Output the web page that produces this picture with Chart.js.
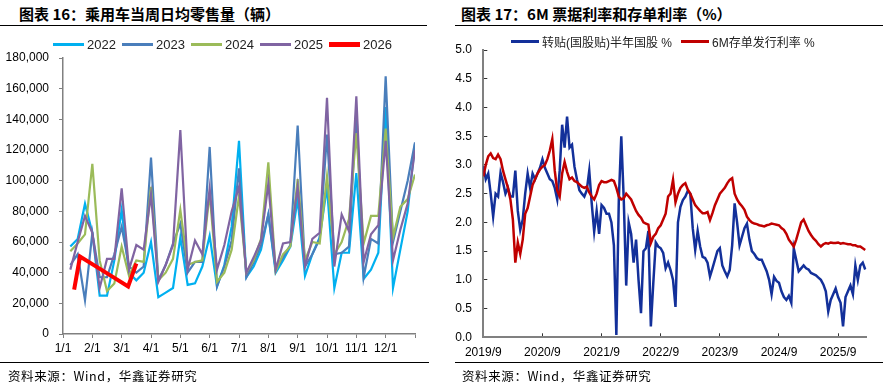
<!DOCTYPE html>
<html>
<head>
<meta charset="utf-8">
<script src="https://cdn.jsdelivr.net/npm/chart.js@4.4.1/dist/chart.umd.min.js"></script>
<style>
  body { margin: 0; width: 883px; height: 385px; background: #fff; position: relative; overflow: hidden; font-family: "Liberation Sans", Arial, sans-serif; }
  .title { position: absolute; top: 3px; font: bold 15px "Noto Sans CJK SC", sans-serif; color: #000; white-space: nowrap; }
  .rule { position: absolute; height: 0; border-top: 1.5px solid #000; }
  .src { position: absolute; top: 366px; font: 12.5px "Noto Sans CJK SC", sans-serif; color: #000; letter-spacing: 0.6px; white-space: nowrap; }
  canvas { position: absolute; top: 0; }
  .legend { position: absolute; display: flex; align-items: center; font-size: 13px; color: #222; white-space: nowrap; font-family: "Liberation Sans", "Noto Sans CJK SC", sans-serif; }
  .legend .item { display: flex; align-items: center; }
  .legend .swatch { display: inline-block; margin-right: 3px; flex: none; }
</style>
</head>
<body>
<div class="title" style="left:19px">图表 16：乘用车当周日均零售量（辆）</div>
<div class="title" style="left:461px">图表 17：6M 票据利率和存单利率（%）</div>
<div class="rule" style="left:0;width:427px;top:25px"></div>
<div class="rule" style="left:455px;width:428px;top:25px"></div>

<canvas id="retail" width="440" height="385" style="left:0"></canvas>
<canvas id="rates" width="443" height="385" style="left:440px"></canvas>

<div class="legend" id="legend1" style="left:53px;top:37px"></div>
<div class="legend" id="legend2" style="left:511px;top:33px;font-size:12px"></div>

<div class="rule" style="left:0;width:429px;top:362px"></div>
<div class="rule" style="left:455px;width:428px;top:362px"></div>
<div class="src" style="left:8px">资料来源：Wind，华鑫证券研究</div>
<div class="src" style="left:462px">资料来源：Wind，华鑫证券研究</div>

<script>
// ---- chart 16: weekly average daily retail (4 readings per month) ----
const monthLabels = ["1/1", "2/1", "3/1", "4/1", "5/1", "6/1", "7/1", "8/1", "9/1", "10/1", "11/1", "12/1"];
const years = ["2022", "2023", "2024", "2025", "2026"];
const yearColors = ["#00B0F0", "#4A7EBB", "#9BBB59", "#8064A2", "#FF0000"];

const sales2022 = [57000, 62000, 85000, 66000, 25000, 25000, 48000, 81000, 40000, 35000, 40000, 60000,
  24000, 27000, 30000, 63000, 32000, 33000, 44000, 64000, 31000, 45000, 70000, 126000,
  37000, 44000, 55000, 78000, 40000, 48000, 57000, 88000, 38000, 52000, 63000, 96000,
  30000, 53000, 53000, 105000, 36000, 42000, 53000, 148000, 30000, 55000, 80000, 124000];
const sales2023 = [45000, 52000, 22000, 66000, 37000, 37000, 52000, 70000, 44000, 40000, 44000, 115000,
  35000, 45000, 59000, 72000, 40000, 47000, 47000, 122000, 31000, 44000, 61000, 108000,
  37000, 47000, 58000, 78000, 42000, 50000, 58000, 136000, 44000, 52000, 62000, 130000,
  52000, 53000, 57000, 146000, 37000, 62000, 59000, 168000, 60000, 80000, 100000, 125000];
const sales2024 = [54000, 59000, 65000, 111000, 48000, 28000, 33000, 57000, 38000, 48000, 47000, 96000,
  35000, 40000, 49000, 81000, 45000, 47000, 48000, 92000, 34000, 40000, 55000, 90000,
  40000, 48000, 62000, 112000, 41000, 52000, 57000, 101000, 48000, 60000, 59000, 103000,
  52000, 60000, 75000, 131000, 59000, 77000, 77000, 134000, 63000, 83000, 88000, 104000];
const sales2025 = [42000, 60000, 77000, 66000, 30000, 49000, 49000, 95000, 42000, 58000, 55000, 91000,
  34000, 45000, 58000, 133000, 42000, 61000, 52000, 95000, 42000, 58000, 80000, 96000,
  40000, 50000, 61000, 98000, 42000, 59000, 60000, 96000, 44000, 62000, 66000, 154000,
  44000, 78000, 67000, 155000, 47000, 65000, 71000, 126000, 48000, 68000, 85000, 120000];
const sales2026 = [29000, 50500, 42000, 31000, 46000];
// 2026 readings fall on their own dates (months after 1/1)
const dates2026 = [0.38, 0.58, 1.3, 2.22, 2.5];

// ---- chart 17: rates, one reading every half month from 2019/9 ----
const yearTicks = ["2019/9", "2020/9", "2021/9", "2022/9", "2023/9", "2024/9", "2025/9"];
const rateNames = ["转贴(国股贴)半年国股 %", "6M存单发行利率 %"];
const rateColors = ["#13309A", "#C00000"];

const billRate = [2.98, 2.75, 2.85, 2.5, 2.1, 2.5, 2.45, 2.86, 2.7, 2.5,
  2.6, 2.45, 2.45, 2.9, 2.2, 1.87, 2.05, 2.5, 2.85, 2.6,
  2.85, 2.75, 2.85, 2.95, 3.1, 2.95, 2.85, 2.75, 2.72, 2.6,
  2.4, 2.9, 3.7, 3.3, 3.84, 3.3, 3.35, 2.97, 2.75, 2.56,
  2.5, 2.45, 2.56, 2.9, 2.33, 1.84, 2.2, 1.8, 2.3, 2.25,
  2.15, 2.15, 2.0, 1.6, 0.04, 2.4, 3.5, 2.4, 0.9, 2.0,
  1.8, 1.3, 1.7, 1.0, 0.42, 1.5, 1.55, 1.85, 0.19, 0.95,
  1.65, 1.58, 1.55, 1.47, 1.2, 1.3, 1.17, 1.0, 0.53, 2.0,
  2.27, 2.39, 2.45, 2.55, 2.5, 1.9, 1.52, 1.85, 1.58, 1.4,
  1.38, 1.3, 1.06, 1.2, 1.35, 1.5, 1.55, 1.25, 1.15, 1.06,
  1.17, 1.6, 2.33, 2.0, 1.6, 1.75, 1.9, 1.98, 1.7, 1.5,
  1.45, 1.38, 1.35, 1.35, 1.25, 1.15, 1.0, 0.75, 1.05, 0.98,
  0.95, 0.8, 0.7, 0.65, 0.72, 0.6, 1.55, 1.35, 1.15, 1.2,
  1.25, 1.2, 1.18, 1.12, 1.1, 1.08, 1.04, 1.0, 0.92, 0.8,
  0.45, 0.65, 0.75, 0.85, 0.7, 0.6, 0.19, 0.7, 0.8, 0.9,
  0.75, 1.25, 1.0, 1.25, 1.3, 1.18];
const cdRate = [2.8, 3.0, 3.15, 3.2, 3.12, 3.1, 3.18, 3.1, 2.9, 2.75,
  2.6, 2.4, 2.05, 1.3, 1.65, 1.45, 1.7, 2.15, 2.25, 2.45,
  2.65, 2.75, 2.85, 2.92, 2.97, 3.0, 3.1, 3.25, 3.45, 2.9,
  2.55, 2.45, 2.85, 3.05, 2.88, 2.75, 2.78, 2.72, 2.7, 2.66,
  2.62, 2.6, 2.62, 2.52, 2.45, 2.4, 2.5, 2.65, 2.72, 2.7,
  2.7, 2.72, 2.74, 2.72, 2.6, 2.45, 2.4, 2.42, 2.5, 2.45,
  2.4, 2.3, 2.2, 2.13, 2.08, 2.0, 1.98, 1.96, 1.64, 1.75,
  1.8, 1.9, 1.95, 2.05, 2.15, 2.45, 2.5, 2.74, 2.35, 2.5,
  2.6, 2.65, 2.68, 2.57, 2.5, 2.4, 2.3, 2.25, 2.2, 2.16,
  2.16, 2.18, 2.04, 2.16, 2.3, 2.4, 2.5, 2.55, 2.6, 2.68,
  2.74, 2.77, 2.5, 2.4, 2.33, 2.28, 2.22, 2.1, 2.04, 2.0,
  1.98, 1.97, 1.95, 1.94, 1.93, 1.95, 1.96, 1.98, 1.97, 1.96,
  1.95, 1.9, 1.87, 1.8, 1.7, 1.64, 1.58, 1.7, 1.85, 2.0,
  2.05, 1.95, 1.85, 1.78, 1.72, 1.68, 1.62, 1.58, 1.62, 1.64,
  1.63, 1.65, 1.64, 1.64, 1.65, 1.63, 1.64, 1.63, 1.62, 1.62,
  1.6, 1.6, 1.58, 1.58, 1.55, 1.52];

const tickFont = { family: "'Liberation Sans', Arial, sans-serif", size: 12 };

// week readings sit at quarter-month steps, the last one on the next month's tick
const weekPos = sales2022.map((_, i) => (i + 1) / 4);
const halfMonths = billRate.map((_, i) => i / 2);

function pairs(xs, ys) {
  return ys.map((y, i) => ({ x: xs[i], y: y }));
}

// html legends
function buildLegend(id, names, colors, opts) {
  const box = document.getElementById(id);
  names.forEach((name, i) => {
    const item = document.createElement("div");
    item.className = "item";
    item.style.width = opts.widths[i] + "px";
    const sw = document.createElement("span");
    sw.className = "swatch";
    sw.style.width = opts.line + "px";
    sw.style.height = opts.thick[i] + "px";
    sw.style.background = colors[i];
    item.appendChild(sw);
    item.appendChild(document.createTextNode(name));
    box.appendChild(item);
  });
}
buildLegend("legend1", years, yearColors, { widths: [69, 69, 69, 69, 69], line: 31, thick: [3, 3, 3, 3, 5] });
buildLegend("legend2", rateNames, rateColors, { widths: [170, 160], line: 28, thick: [2.5, 2.5] });

const allSales = [sales2022, sales2023, sales2024, sales2025, sales2026];

let retailChart = new Chart(document.getElementById("retail"), {
  type: "line",
  data: {
    datasets: years.map((yr, i) => ({
      label: yr,
      data: pairs(i === 4 ? dates2026 : weekPos, allSales[i]),
      borderColor: yearColors[i],
      borderWidth: i === 4 ? 4 : 2.2,
      order: years.length - i
    }))
  },
  options: {
    responsive: false,
    animation: false,
    layout: { padding: { left: 0, right: 25, top: 58, bottom: 31 } },
    elements: { point: { radius: 0 }, line: { tension: 0 } },
    plugins: { legend: { display: false }, tooltip: { enabled: false } },
    scales: {
      x: {
        type: "linear", min: 0, max: 12,
        afterBuildTicks: s => { s.ticks = monthLabels.map((_, i) => ({ value: i })).concat([{ value: 12 }]); },
        afterFit: s => { s.height = 20; },
        ticks: { autoSkip: false, maxRotation: 0, padding: 3, color: "#000", font: tickFont,
          callback: v => monthLabels[v] || "" },
        grid: { drawOnChartArea: false, tickLength: 4, color: "#808080", lineWidth: 1 },
        border: { color: "#808080", width: 1.5 }
      },
      y: {
        min: 0, max: 180000,
        afterFit: s => { s.width = 63; },
        ticks: { stepSize: 20000, padding: 10, color: "#000", font: tickFont,
          callback: v => v.toLocaleString("en-US") },
        grid: { drawOnChartArea: false, tickLength: 4, color: "#808080", lineWidth: 1 },
        border: { color: "#808080", width: 1.5 }
      }
    }
  }
});

const allRates = [billRate, cdRate];

let rateChart = new Chart(document.getElementById("rates"), {
  type: "line",
  data: {
    datasets: rateNames.map((nm, i) => ({
      label: nm,
      data: pairs(halfMonths, allRates[i]),
      borderColor: rateColors[i],
      borderWidth: 2.5,
      order: rateNames.length - i
    }))
  },
  options: {
    responsive: false,
    animation: false,
    layout: { padding: { left: 0, right: 16.3, top: 50, bottom: 27.7 } },
    elements: { point: { radius: 0 }, line: { tension: 0 } },
    plugins: { legend: { display: false }, tooltip: { enabled: false } },
    scales: {
      x: {
        type: "linear", min: 0, max: 77.8,
        afterBuildTicks: s => { s.ticks = yearTicks.map((_, i) => ({ value: i * 12 })); },
        afterFit: s => { s.height = 20; },
        ticks: { autoSkip: false, maxRotation: 0, padding: 11.7, color: "#000", font: tickFont,
          callback: v => yearTicks[v / 12] },
        grid: { drawOnChartArea: false, tickLength: -4, color: "#333", lineWidth: 1 },
        border: { color: "#808080", width: 2 }
      },
      y: {
        min: 0, max: 5,
        afterFit: s => { s.width = 43.3; },
        ticks: { stepSize: 0.5, padding: 15.3, color: "#000", font: tickFont,
          callback: v => v.toFixed(1) },
        grid: { drawOnChartArea: false, tickLength: -4, color: "#333", lineWidth: 1 },
        border: { color: "#808080", width: 2 }
      }
    }
  }
});
</script>
</body>
</html>
